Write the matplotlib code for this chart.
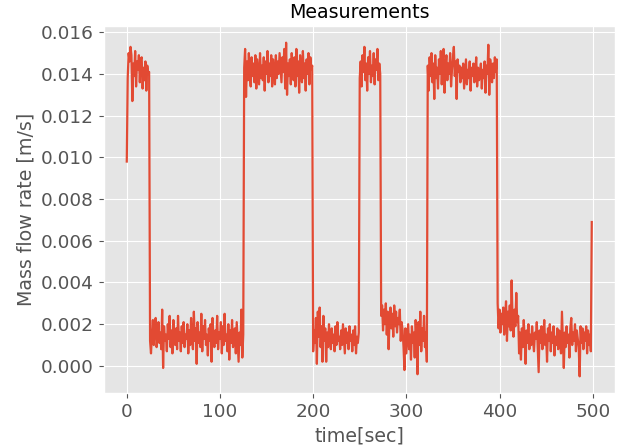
import matplotlib
matplotlib.use("Agg")
import matplotlib.pyplot as plt
import numpy as np

plt.style.use("ggplot")

# Mass flow rate values in units of 1e-4 m/s, per segment (1 sample / sec)
seg_high1 = [98, 138, 150, 146, 153, 149, 127, 145, 139, 151,
             134, 146, 142, 149, 136, 147, 148, 133, 143, 137,
             146, 132, 144, 140, 141]
seg_low1 = [12,
            6, 15, 22, 10, 18, 23, 9, 14, 21, 11,
            16, 8, 27, -1, 19, 12, 15, 7, 20, 13,
            24, 9, 17, 6, 22, 14, 10, 18, 8, 24,
            12, 16, 7, 19, 11, 21, 9, 15, 13, 20,
            6, 17, 10, 23, 14, 8, 26, 12, 18, 1,
            21, 11, 16, 9, 25, 7, 19, 13, 22, 10,
            15, 5, 18, 12, 20, 2, 23, 14, 9, 17,
            11, 24, 8, 16, 13, 21, 6, 19, 10, 25,
            12, 15, 7, 20, 3, 17, 11, 22, 9, 14,
            18, 6, 21, 12, 2, 16, 10, 27, 4, 15]
seg_high2 = [143, 152, 129, 146, 137, 150, 140, 134, 148, 139,
             145, 136, 149, 133, 147, 141, 135, 150, 138, 144,
             137, 148, 132, 146, 140, 151, 136, 145, 139, 149,
             134, 147, 142, 135, 149, 138, 146, 140, 150, 143,
             136, 148, 141, 152, 133, 155, 130, 145, 139, 147,
             135, 150, 141, 137, 148, 134, 152, 139, 146, 131,
             149, 143, 136, 151, 138, 145, 132, 147, 140, 150,
             135, 148, 142, 144]
seg_low2 = [7, 17, 11, 23, 1, 26, 14, 28, 9, 19,
            2, 24, 12, 18, 2, 16, 9, 20, 13, 8,
            18, 11, 15, 7, 19, 10, 21, 12, 14, 8,
            17, 10, 20, 13, 6, 18, 11, 16, 8, 19,
            12, 15, 7, 17, 10, 19, 6, 14, 11, 16]
seg_high3 = [138, 146, 134, 149, 141, 153, 137, 145, 132, 148,
             140, 151, 136, 144, 139, 150, 135, 147, 142, 152,
             137, 145, 140]
seg_low3 = [24, 29, 17, 27, 20, 30, 15, 26, 8, 22,
            28, 18, 25, 14, 29, 19, 26, 16, 23, 20,
            27, 12, 21, 17, 9, -2, 18, 6, 13, 20,
            8, 15, 3, 19, 11, 16, 4, 22, 13, -4,
            21, 10, 26, 7, 18, 12, 24, 9, 16, 2]
seg_high4 = [144, 132, 148, 139, 150, 136, 145, 128, 149, 138,
             143, 133, 147, 140, 151, 135, 146, 152, 131, 144,
             149, 137, 145, 140, 150, 134, 142, 148, 153, 139,
             146, 128, 147, 141, 144, 136, 143, 138, 145, 133,
             140, 147, 135, 142, 138, 146, 132, 143, 139, 145,
             136, 141, 148, 134, 143, 137, 140, 145, 133, 142,
             138, 146, 131, 144, 140, 154, 130, 147, 142, 136,
             145, 138, 148, 141, 147]
seg_low4 = [30, 18, 27, 16, 25, 20, 28, 15, 24, 31,
            12, 26, 19, 29, 17, 41, 22, 14, 27, 19,
            35, 21, 24, 6, 16, 3, 18, 9, 22, 13,
            1, 17, 11, 20, 8, 15, 10, 19, 12, 7,
            16, 13, 21, 9, -3, 17, 11, 19, 8, 14,
            22, 10, 15, 2, 18, 12, 20, 7, 16, 11,
            19, 5, 14, 10, 18, 8, 17, 12, 6, 26,
            13, -1, 16, 9, 19, 11, 15, 4, 18, 23,
            10, 16, 12, 20, 7, 17, 13, 9, -5, 19,
            11, 18, 8, 16, 12, 19, 6, 17, 10, 15,
            7, 69]

flow = np.array(seg_high1 + seg_low1 + seg_high2 + seg_low2 +
                seg_high3 + seg_low3 + seg_high4 + seg_low4) * 1e-4
time = np.arange(len(flow))

fig = plt.figure(figsize=(6.24, 4.46), dpi=100)
ax = fig.add_axes([0.1659, 0.1188, 0.8197, 0.8229])
ax.plot(time, flow, color="#E24A33", linewidth=1.6)
ax.set_title("Measurements", fontsize=13.7)
ax.set_xlabel("time[sec]", fontsize=13.7)
ax.set_ylabel("Mass flow rate [m/s]", fontsize=13.7)
ax.tick_params(labelsize=13.3)
ax.set_xticks([0, 100, 200, 300, 400, 500])
ax.set_yticks([0.000, 0.002, 0.004, 0.006, 0.008, 0.010, 0.012, 0.014, 0.016])
ax.yaxis.set_major_formatter(matplotlib.ticker.FormatStrFormatter("%.3f"))
fig.savefig("out.png", dpi=100)
